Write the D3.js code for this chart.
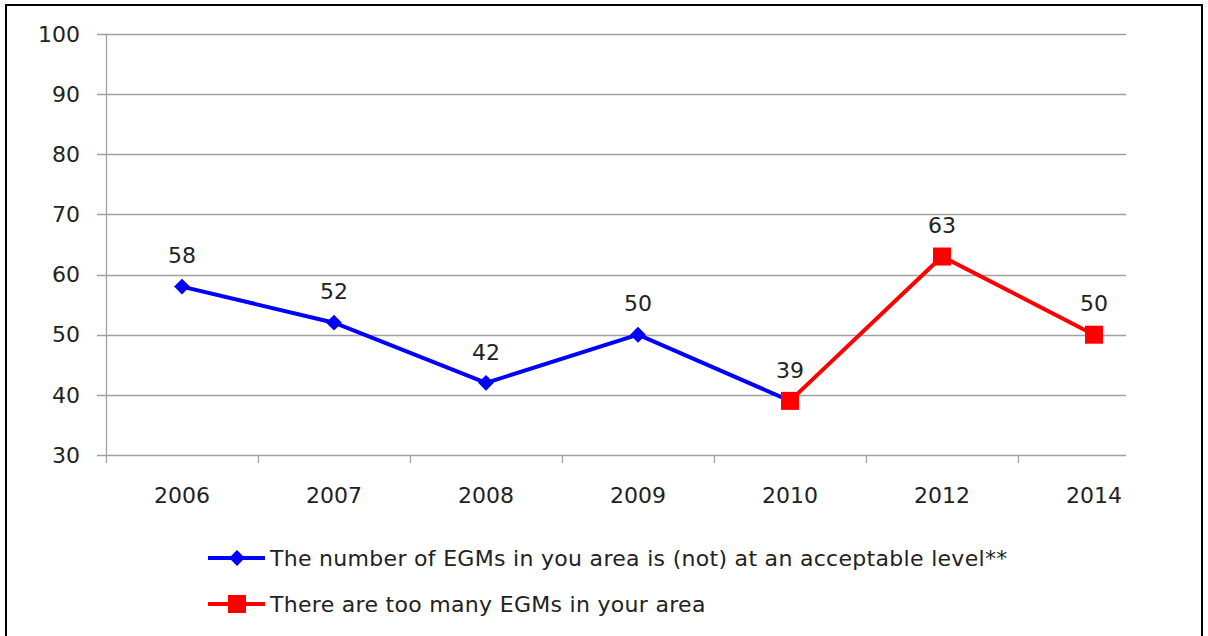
<!DOCTYPE html>
<html>
<head>
<meta charset="utf-8">
<script src="https://cdn.jsdelivr.net/npm/d3@7"></script>
<style>
  body { margin: 0; background: #fff; }
  svg { display: block; font-family: "DejaVu Sans", "Open Sans", sans-serif; }
</style>
</head>
<body>
<svg width="1208" height="636"></svg>
<script>
const years = ["2006", "2007", "2008", "2009", "2010", "2012", "2014"];
const blueYears = ["2006", "2007", "2008", "2009", "2010"];
const blueValues = [58, 52, 42, 50, 39];
const redYears = ["2010", "2012", "2014"];
const redValues = [39, 63, 50];
const yTicks = [30, 40, 50, 60, 70, 80, 90, 100];
const legendLabels = [
  "The number of EGMs in you area is (not) at an acceptable level**",
  "There are too many EGMs in your area"
];

const svg = d3.select("svg");
const plotLeft = 106, plotTop = 34, plotBottom = 455, gridRight = 1126;

// frame
svg.append("rect")
  .attr("x", 6).attr("y", 5).attr("width", 1196).attr("height", 640)
  .attr("fill", "none").attr("stroke", "#000").attr("stroke-width", 2);

const x = d3.scaleBand().domain(years).range([plotLeft, plotLeft + 152 * years.length]);
const y = d3.scaleLinear().domain([30, 100]).range([plotBottom, plotTop]);

// grid + y labels
const g = svg.append("g");
g.selectAll("line.grid").data(yTicks).enter().append("line")
  .attr("x1", plotLeft - 9).attr("x2", gridRight)
  .attr("y1", d => Math.round(y(d)) + 0.5).attr("y2", d => Math.round(y(d)) + 0.5)
  .attr("stroke", "#a0a0a0").attr("stroke-width", 1.3);
g.selectAll("text.ylab").data(yTicks).enter().append("text")
  .attr("x", 80).attr("y", d => y(d)).attr("dy", "0.35em")
  .attr("text-anchor", "end").attr("font-size", 22).attr("fill", "#222")
  .text(d => d);

// y axis line
g.append("line").attr("x1", plotLeft + 0.5).attr("x2", plotLeft + 0.5)
  .attr("y1", plotTop).attr("y2", plotBottom + 8).attr("stroke", "#a0a0a0").attr("stroke-width", 1.3);

// x ticks at band boundaries (last one falls outside the plot)
g.selectAll("line.xt").data(years.slice(1)).enter().append("line")
  .attr("x1", d => Math.round(x(d)) + 0.5).attr("x2", d => Math.round(x(d)) + 0.5)
  .attr("y1", plotBottom).attr("y2", plotBottom + 8)
  .attr("stroke", "#a0a0a0").attr("stroke-width", 1.3);
g.selectAll("text.xlab").data(years).enter().append("text")
  .attr("x", d => x(d) + x.bandwidth() / 2).attr("y", 495).attr("dy", "0.35em")
  .attr("text-anchor", "middle").attr("font-size", 22).attr("fill", "#222")
  .text(d => d);

const cx = d => x(d) + x.bandwidth() / 2;
const line = d3.line().x(d => cx(d[0])).y(d => y(d[1]));

const blue = blueYears.map((d, i) => [d, blueValues[i]]);
const red = redYears.map((d, i) => [d, redValues[i]]);

svg.append("path").datum(blue).attr("d", line)
  .attr("fill", "none").attr("stroke", "#0000ff").attr("stroke-width", 4);
svg.selectAll("path.dia").data(blue).enter().append("path")
  .attr("d", d3.symbol().type(d3.symbolDiamond2).size(160))
  .attr("transform", d => `translate(${cx(d[0])},${y(d[1])})`)
  .attr("fill", "#0000ff");

svg.append("path").datum(red).attr("d", line)
  .attr("fill", "none").attr("stroke", "#ff0000").attr("stroke-width", 4);
svg.selectAll("rect.sq").data(red).enter().append("rect")
  .attr("x", d => cx(d[0]) - 9).attr("y", d => y(d[1]) - 9)
  .attr("width", 18).attr("height", 18).attr("fill", "#ff0000");

// data labels
const labels = blue.slice(0, 4).concat(red);
svg.selectAll("text.dl").data(labels).enter().append("text")
  .attr("x", d => cx(d[0])).attr("y", d => y(d[1]) - 31).attr("dy", "0.35em")
  .attr("text-anchor", "middle").attr("font-size", 22).attr("fill", "#222")
  .text(d => d[1]);

// legend
const legend = svg.append("g");
const colors = ["#0000ff", "#ff0000"];
legendLabels.forEach((t, i) => {
  const ly = 558 + i * 46;
  legend.append("line").attr("x1", 208).attr("x2", 265).attr("y1", ly).attr("y2", ly)
    .attr("stroke", colors[i]).attr("stroke-width", 4);
  if (i === 0) {
    legend.append("path").attr("d", d3.symbol().type(d3.symbolDiamond2).size(160))
      .attr("transform", `translate(237,${ly})`).attr("fill", colors[i]);
  } else {
    legend.append("rect").attr("x", 228).attr("y", ly - 9).attr("width", 18).attr("height", 18)
      .attr("fill", colors[i]);
  }
  legend.append("text").attr("x", 270).attr("y", ly).attr("dy", "0.35em")
    .attr("font-size", 22).attr("letter-spacing", 0.3).attr("fill", "#222").text(t);
});
</script>
</body>
</html>
